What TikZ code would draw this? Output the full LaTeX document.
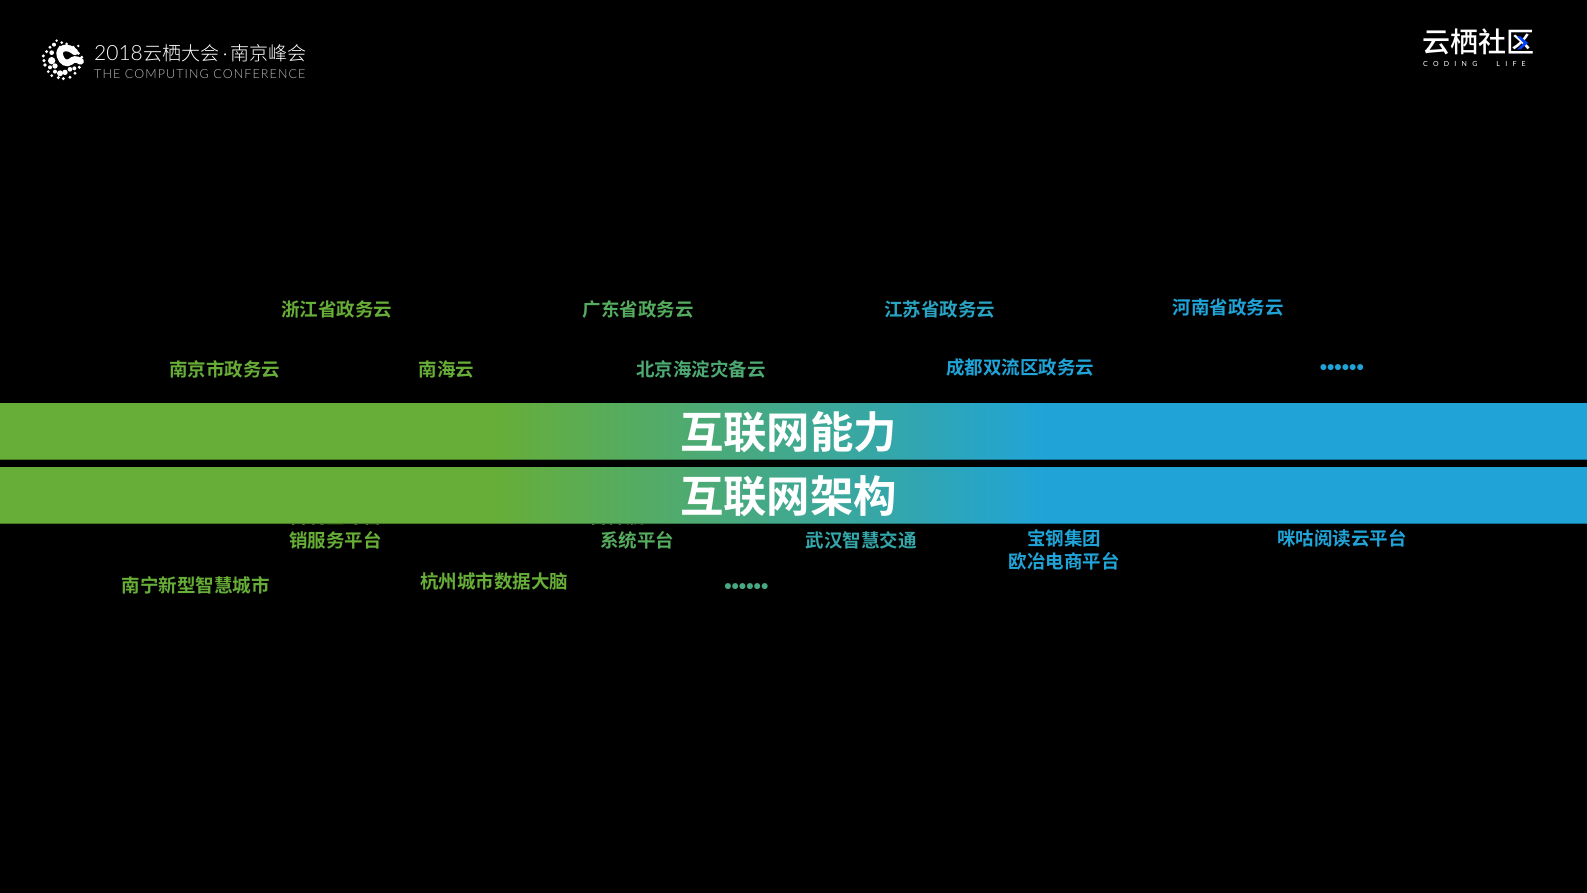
\documentclass[tikz,border=0pt]{standalone}
\usepackage{fontspec}
\setmainfont{Noto Sans CJK SC}
\newfontfamily\cjkb{Noto Sans CJK SC Bold}
\newfontfamily\cjkl{Noto Sans CJK SC Light}
\newfontfamily\cjkm{Noto Sans CJK SC Medium}
\newfontfamily\latl{Lato Light}
\newfontfamily\lats[LetterSpace=9]{Lato Light}
\newfontfamily\latc[LetterSpace=75]{Lato}
\newfontfamily\bulletf{Liberation Sans Bold}
\definecolor{bargreen}{HTML}{67AE38}
\definecolor{barblue}{HTML}{20A4D8}
\pgfdeclarehorizontalshading{barshade}{100bp}{
  color(0bp)=(bargreen); color(40.5bp)=(bargreen);
  color(58bp)=(barblue); color(100bp)=(barblue)}
\tikzset{
  lab/.style={text={barblue!#1!bargreen},font=\cjkb\fontsize{18.5}{23}\selectfont,inner sep=0pt,align=center},
  dots/.style={text={barblue!#1!bargreen},font=\bulletf\fontsize{21}{23}\selectfont,inner sep=0pt},
  bar/.style={rectangle,inner sep=0pt,minimum width=1587pt,minimum height=56.3pt,shading=barshade,anchor=north west},
  bartitle/.style={text=white,font=\cjkb\fontsize{43.4}{50}\selectfont,inner sep=0pt},
  ldot/.style={fill=white,draw=none}
}
\begin{document}
\begin{tikzpicture}[x=1pt,y=-1pt]
\useasboundingbox (0,0) rectangle (1587,893);
\fill[black] (0,0) rectangle (1587,893);
% upper labels
\node[lab=0] (a1) at (336.5,309.7) {浙江省政务云};
\node[lab=24] (a2) at (638,309.7) {广东省政务云};
\node[lab=87] (a3) at (939.5,309.7) {江苏省政务云};
\node[lab=100] (a4) at (1228,307.5) {河南省政务云};
\node[lab=0] (b1) at (224.7,369.5) {南京市政务云};
\node[lab=0] (b2) at (446.7,370) {南海云};
\node[lab=37] (b3) at (700.8,369.5) {北京海淀灾备云};
\node[lab=100] (b4) at (1020,367.3) {成都双流区政务云};
\node[dots=100] (b5) at (1341.8,370) {••••••};
% lower labels (first lines run under the bar)
\node[lab=0] (c0) at (336,516.5) {吉利全球营};
\node[lab=22] (d0) at (626,516.5) {吉祥航空};
\node[lab=0] (c1) at (335.5,540.5) {销服务平台};
\node[lab=24] (c2) at (637,540.5) {系统平台};
\node[lab=71] (c3) at (861,540.5) {武汉智慧交通};
\node[lab=100] (c4) at (1064,538.4) {宝钢集团};
\node[lab=100] (c5) at (1064,561.7) {欧冶电商平台};
\node[lab=100] (c6) at (1342,538.4) {咪咕阅读云平台};
\node[lab=0] (e1) at (195.8,585.7) {南宁新型智慧城市};
\node[lab=0] (e2) at (494.3,581.5) {杭州城市数据大脑};
\node[dots=47] (e3) at (746.3,589) {••••••};
% bars
\node[bar] (bar1) at (0,403) {};
\node[bar] (bar2) at (0,467) {};
\draw[black,opacity=.3,line width=1pt] (bar1.south west)++(0,-.5) -- ++(1587,0);
\draw[black,opacity=.3,line width=1pt] (bar2.south west)++(0,-.5) -- ++(1587,0);
\node[bartitle] (t1) at (788.5,432) {互联网能力};
\node[bartitle] (t2) at (788.5,496) {互联网架构};
% left logo
\begin{scope}[shift={(30,30)},x=.3333pt,y=-.3333pt]
\foreach \x/\y/\r in {40/78/5,42/92/5,45/105/5.5,50/65/5,60/52/5,65/68/7,65/92/11,75/108/8,60/112/6,90/130/9,105/127/8,120/118/7,133/115/6,75/125/6,85/143/5,100/146/5,120/142/5,135/130/5,148/112/5,155/95/5,155/82/5,145/70/5,145/48/4,130/52/5,110/42/4.5,95/38/4.5,80/32/4,72/44/6,90/52/5,55/125/4.5,65/137/4.5}
  \fill[ldot] (\x,\y) circle[radius=\r];
\draw[white,line width=6.5pt,line cap=round] (135,66) .. controls (115,46) and (82,52) .. (90,78) .. controls (96,97) and (110,104) .. (122,95) .. controls (130,88) and (137,85) .. (152,94);
\end{scope}
\node[anchor=west,inner sep=0pt,text=white] (h1) at (94,53) {\fontsize{21}{26}\latl 2018\kern1pt\cjkl\fontsize{19}{26}\selectfont 云栖大会\kern3pt{\latl·}\kern3pt 南京峰会};
\node[anchor=west,inner sep=0pt,text=white!75!black] (h2) at (94,74) {\lats\fontsize{12.5}{14}\selectfont THE COMPUTING CONFERENCE};
% right logo
\node[anchor=west,inner sep=0pt,text=white] (r1) at (1422,42) {\cjkm\fontsize{28}{30}\selectfont 云栖社区};
\fill[blue!75!cyan] (1517,36.5) -- (1520.5,36.5) -- (1528,43) -- (1520.5,49.5) -- (1517,49.5) -- (1523.5,43) -- cycle;
\node[anchor=west,inner sep=0pt,text=white] (r2) at (1423,63.5) {\latc\fontsize{7}{8}\selectfont CODING\hspace{12pt} LIFE};
\end{tikzpicture}
\end{document}
